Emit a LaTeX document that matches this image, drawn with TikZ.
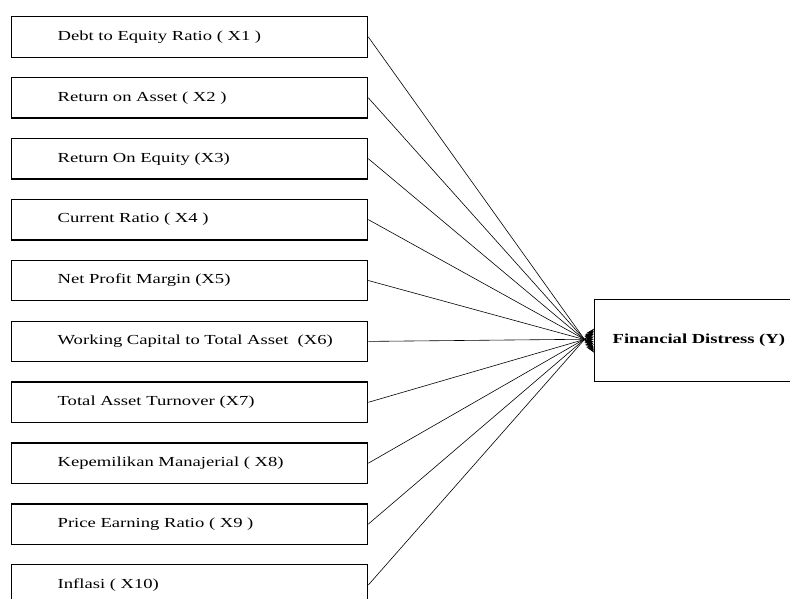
\documentclass[tikz,border=0pt]{standalone}
\usepackage{fontspec}
\setmainfont{Liberation Serif}[FakeStretch=1.35]
\usetikzlibrary{arrows.meta}
\begin{document}
\begin{tikzpicture}[x=1pt,y=-1pt,
  varbox/.style={draw=black,line width=1.3pt,rectangle,anchor=north west,
    minimum width=356pt,minimum height=40.5pt,inner xsep=0pt,inner ysep=0pt,
    text width=356pt,align=left,execute at begin node={\hspace*{46pt}},
    font=\fontsize{13.8}{15}\selectfont},
  ybox/.style={draw=black,line width=1.3pt,rectangle,anchor=north west,
    minimum width=230pt,minimum height=82pt,inner xsep=0pt,inner ysep=0pt,
    text width=230pt,align=left,execute at begin node={\hspace*{18pt}},
    font=\fontsize{13.8}{15}\selectfont\bfseries},
  link/.style={line width=0.6pt,-{Stealth[length=9pt,width=6pt]}}]
\useasboundingbox (0,0) rectangle (790,598);
\fill[white] (0,0) rectangle (790,598);
\node[varbox] (x1) at (11,16.0) {Debt to Equity Ratio ( X1 )};
\node[varbox] (x2) at (11,76.9) {Return on Asset ( X2 )};
\node[varbox] (x3) at (11,137.8) {Return On Equity (X3)};
\node[varbox] (x4) at (11,198.7) {Current Ratio ( X4 )};
\node[varbox] (x5) at (11,259.6) {Net Profit Margin (X5)};
\node[varbox] (x6) at (11,320.5) {Working Capital to Total Asset~~(X6)};
\node[varbox] (x7) at (11,381.4) {Total Asset Turnover (X7)};
\node[varbox] (x8) at (11,442.3) {Kepemilikan Manajerial ( X8)};
\node[varbox] (x9) at (11,503.2) {Price Earning Ratio ( X9 )};
\node[varbox] (x10) at (11,564.1) {Inflasi ( X10)};
\node[ybox] (y) at (594,299) {Financial Distress (Y)};
\foreach \i/\d in {1/-12,2/-9.5,3/-7,4/-4,5/-1.5,6/1.5,7/4,8/7,9/9.5,10/12}{
  \draw[link] (x\i.east) -- ([yshift=\d pt]y.west);
}
\end{tikzpicture}
\end{document}
